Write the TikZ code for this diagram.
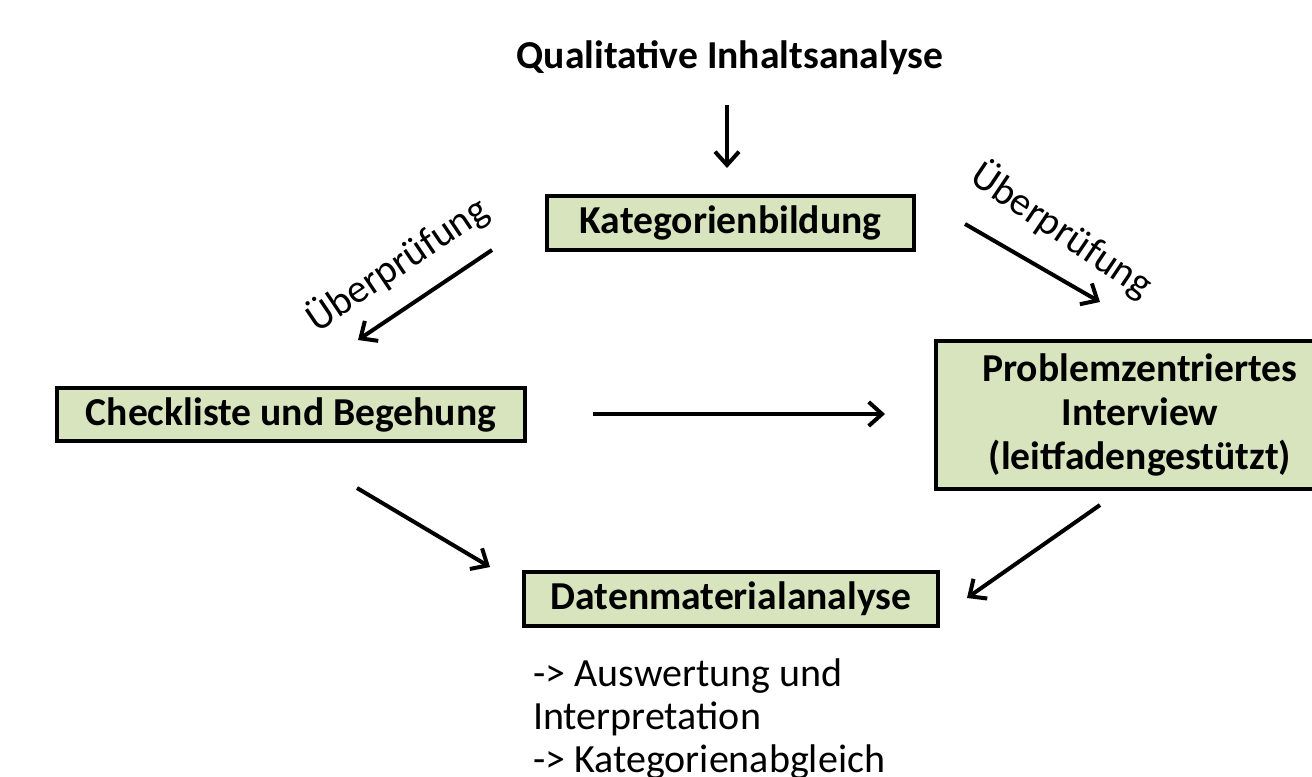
\documentclass[tikz,border=0pt]{standalone}
\usepackage{fontspec}
\setmainfont{Carlito}
\usetikzlibrary{arrows.meta}
\definecolor{boxgreen}{HTML}{D7E4BD}

\begin{document}
\begin{tikzpicture}[x=0.75pt,y=-0.75pt]

\tikzset{stage/.style = {draw,line width=3pt,fill=boxgreen,font=\fontsize{29.7}{33}\selectfont\bfseries,inner sep=0pt,align=center}}
\tikzset{flow/.style = {line width=3pt,-{Straight Barb[length=10pt,width=18pt,line width=3pt]}}}
\tikzset{check/.style = {font=\fontsize{30}{32}\selectfont}}

\clip (0,0) rectangle (1312,777);

\node[font=\fontsize{29.7}{33}\selectfont\bfseries] (qia) at (730,58) {Qualitative Inhaltsanalyse};
\node[stage,minimum width=367*0.75pt,minimum height=54*0.75pt] (kat) at (730.5,223) {Kategorienbildung};
\node[stage,minimum width=468*0.75pt,minimum height=53*0.75pt] (cl) at (291,414.5) {Checkliste und Begehung};
\node[stage,minimum width=408*0.75pt,minimum height=148*0.75pt] (pzi) at (1140,415) {Problemzentriertes\\Interview\\(leitfadengestützt)};
\node[stage,minimum width=414*0.75pt,minimum height=54*0.75pt] (dma) at (731,599) {Datenmaterialanalyse};
\node[font=\fontsize{30}{32.25}\selectfont,align=left,anchor=north west,inner sep=0pt] (aus) at (533,658) {-> Auswertung und\\Interpretation\\-> Kategorienabgleich};

%arrow ends
\coordinate (a1) at (727,105); \coordinate (a2) at (727,168);
\coordinate (b1) at (492,250); \coordinate (b2) at (358,340);
\coordinate (c1) at (965,224); \coordinate (c2) at (1100,302);
\coordinate (d1) at (593,414); \coordinate (d2) at (885,414);
\coordinate (e1) at (357,488); \coordinate (e2) at (490,567);
\coordinate (f1) at (1100,505); \coordinate (f2) at (967,598);

%edges
\draw[flow] (a1) to (a2);
\draw[flow] (b1) to (b2);
\draw[flow] (c1) to (c2);
\draw[flow] (d1) to (d2);
\draw[flow] (e1) to (e2);
\draw[flow] (f1) to (f2);

\node[check,rotate=34] (ul) at (397,264) {Überprüfung};
\node[check,rotate=-34] (ur) at (1062,230) {Überprüfung};
\end{tikzpicture}
\end{document}
